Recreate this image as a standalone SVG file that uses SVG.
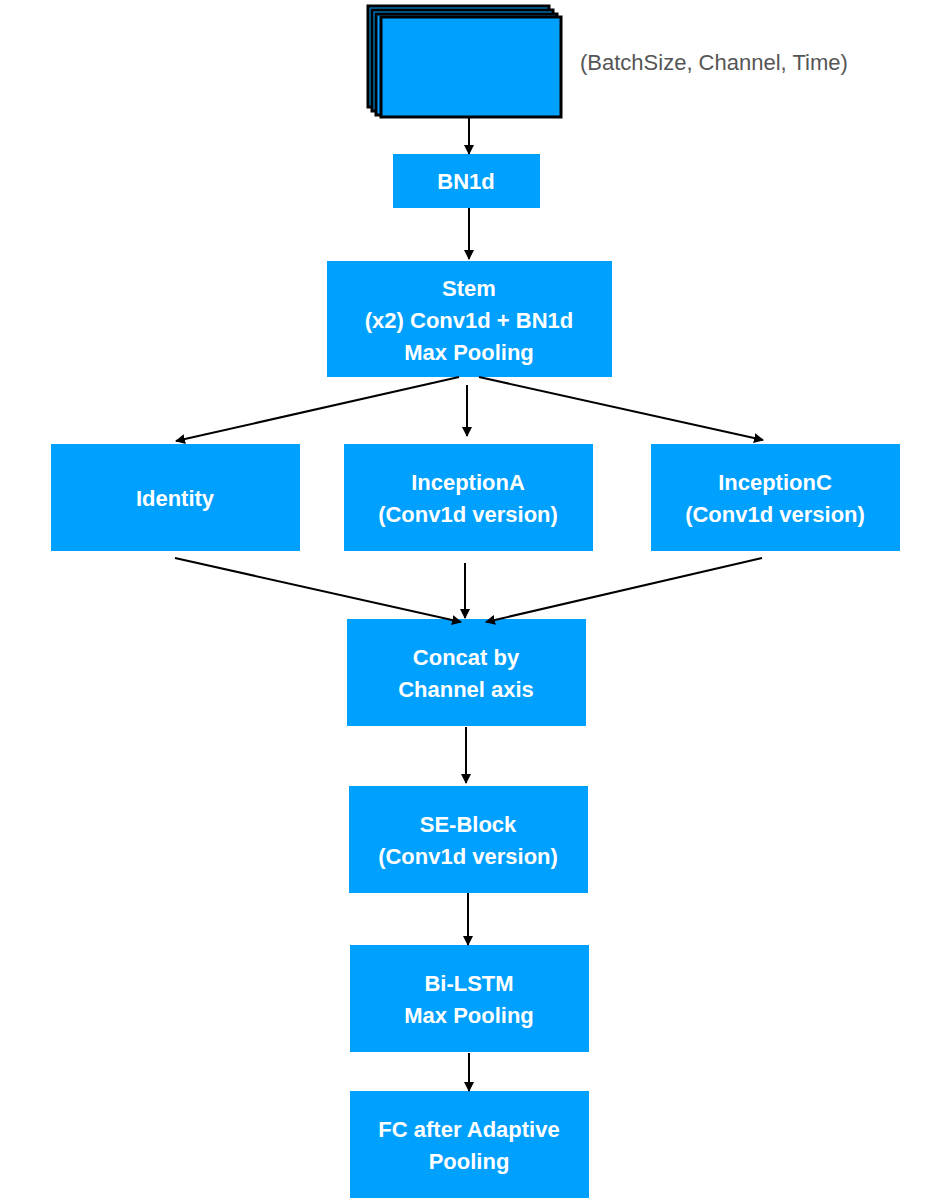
<svg xmlns="http://www.w3.org/2000/svg" width="952" height="1204" viewBox="0 0 952 1204">
<style>
.n{fill:#00A0FF}
.t{font-family:"Liberation Sans",Arial,sans-serif;font-size:22px;font-weight:bold;fill:#fff;text-anchor:middle}
.c line{stroke:#000;stroke-width:2;marker-end:url(#a)}
.s{fill:#00A0FF;stroke:#000;stroke-width:3}
</style>
<defs><marker id="a" viewBox="0 0 10 10" refX="9" refY="5" markerWidth="5" markerHeight="5" orient="auto"><path d="M0,0L10,5L0,10z"/></marker></defs>
<rect width="952" height="1204" fill="#fff"/>
<g id="input">
<rect class="s" x="368" y="6" width="181" height="101"/>
<rect class="s" x="372" y="10" width="181" height="101"/>
<rect class="s" x="376" y="14" width="181" height="101"/>
<rect class="s" x="381" y="17" width="180" height="100"/>
<text x="580" y="70" style="font-family:'Liberation Sans',Arial,sans-serif;font-size:22px;fill:#555">(BatchSize, Channel, Time)</text>
</g>
<g id="bn1d"><rect class="n" x="393" y="154" width="147" height="54"/><text class="t" x="466" y="189">BN1d</text></g>
<g id="stem"><rect class="n" x="327" y="261" width="285" height="116"/><text class="t" x="469" y="296">Stem</text><text class="t" x="469" y="328">(x2) Conv1d + BN1d</text><text class="t" x="469" y="360">Max Pooling</text></g>
<g id="identity"><rect class="n" x="51" y="444" width="249" height="107"/><text class="t" x="175" y="506">Identity</text></g>
<g id="inceptionA"><rect class="n" x="344" y="444" width="249" height="107"/><text class="t" x="468" y="490">InceptionA</text><text class="t" x="468" y="522">(Conv1d version)</text></g>
<g id="inceptionC"><rect class="n" x="651" y="444" width="249" height="107"/><text class="t" x="775" y="490">InceptionC</text><text class="t" x="775" y="522">(Conv1d version)</text></g>
<g id="concat"><rect class="n" x="347" y="619" width="239" height="107"/><text class="t" x="466" y="665">Concat by</text><text class="t" x="466" y="697">Channel axis</text></g>
<g id="se"><rect class="n" x="349" y="786" width="239" height="107"/><text class="t" x="468" y="832">SE-Block</text><text class="t" x="468" y="864">(Conv1d version)</text></g>
<g id="bilstm"><rect class="n" x="350" y="945" width="239" height="107"/><text class="t" x="469" y="991">Bi-LSTM</text><text class="t" x="469" y="1023">Max Pooling</text></g>
<g id="fc"><rect class="n" x="350" y="1091" width="239" height="107"/><text class="t" x="469" y="1137">FC after Adaptive</text><text class="t" x="469" y="1169">Pooling</text></g>
<g class="c">
<line x1="469" y1="117" x2="469" y2="154"/>
<line x1="469" y1="208" x2="469" y2="259"/>
<line x1="459" y1="377" x2="176" y2="441"/>
<line x1="467" y1="385" x2="467" y2="436"/>
<line x1="479" y1="377" x2="763" y2="440"/>
<line x1="175" y1="558" x2="461" y2="622"/>
<line x1="465" y1="563" x2="465" y2="618"/>
<line x1="762" y1="558" x2="486" y2="622"/>
<line x1="466" y1="727" x2="466" y2="783"/>
<line x1="468" y1="893" x2="468" y2="945"/>
<line x1="469" y1="1053" x2="469" y2="1091"/>
</g>
</svg>
